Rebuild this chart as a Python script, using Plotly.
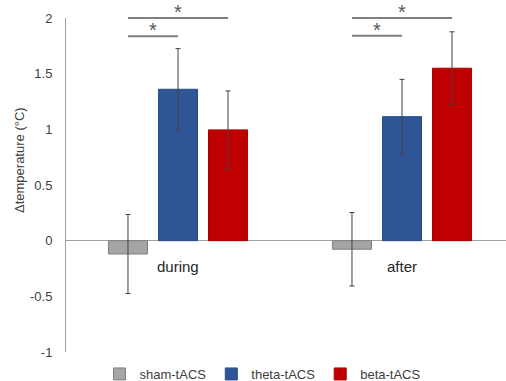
import plotly.graph_objects as go

categories = ["during", "after"]
series_names = ["sham-tACS", "theta-tACS", "beta-tACS"]
sham_vals = [-0.12, -0.077]
theta_vals = [1.36, 1.114]
beta_vals = [0.995, 1.549]
sham_err = [0.355, 0.33]
theta_err = [0.365, 0.335]
beta_err = [0.35, 0.327]
y_ticks = [-1, -0.5, 0, 0.5, 1, 1.5, 2]
y_tick_labels = ["-1", "-0.5", "0", "0.5", "1", "1.5", "2"]
# significance brackets: (category index, series from, series to, height)
sig_pairs = [(0, 0, 1, 1.835), (0, 0, 2, 2.0), (1, 0, 1, 1.84), (1, 0, 2, 2.0)]

fill_colors = ["#a5a5a5", "#2f5597", "#c00000"]
line_colors = ["#808080", "#2a4c86", "#a80000"]

# body margin removed via post_script, so figure pixels == page pixels
W, H = 506, 381
plot_left, plot_top, plot_bottom = 66, 18, 352
ml = plot_left
mt = plot_top
mb = H - plot_bottom
mr = 0
PW, PH = W - ml - mr, H - mt - mb

bargap = 0.33
bargroupgap = 0.22
YMIN, YMAX = -1, 2
XMIN = -0.5
XMAX = XMIN + PW / 224.0

def px_to_paper_x(px):
    return (px - plot_left) / PW
def px_to_paper_y(py):
    return (plot_bottom - py) / PH

xs = list(range(len(categories)))
fig = go.Figure()
for name, vals, errs, fc, lc in zip(series_names, [sham_vals, theta_vals, beta_vals],
                                     [sham_err, theta_err, beta_err], fill_colors, line_colors):
    fig.add_trace(go.Bar(
        x=xs, y=vals, name=name,
        marker=dict(color=fc, line=dict(color=lc, width=1)),
        error_y=dict(type="data", array=errs, visible=True, color="#404040", thickness=1, width=2.5),
    ))

pitch = (1 - bargap) / len(series_names)
def bar_x(ci, si):
    return ci + (si - (len(series_names) - 1) / 2) * pitch
def paper_y(v):
    return (v - YMIN) / (YMAX - YMIN)

for ci, s0, s1, h in sig_pairs:
    x0, x1 = bar_x(ci, s0), bar_x(ci, s1)
    fig.add_shape(type="line", xref="x", yref="paper", x0=x0, x1=x1,
                  y0=paper_y(h), y1=paper_y(h), line=dict(color="#7f7f7f", width=2))
    fig.add_annotation(x=(x0 + x1) / 2, y=paper_y(h), xref="x", yref="paper", text="*",
                       showarrow=False, yanchor="bottom", yshift=-7,
                       font=dict(family="Liberation Sans, Arial", size=20, color="#595959"))

for ci, cat in enumerate(categories):
    fig.add_annotation(x=ci, y=-0.236, xref="x", yref="y", text=cat, showarrow=False,
                       font=dict(family="Liberation Sans, Arial", size=15, color="#262626"))

fig.add_annotation(x=px_to_paper_x(19), y=px_to_paper_y(160), xref="paper", yref="paper",
                   xanchor="center", yanchor="middle",
                   text="Δtemperature (°C)", showarrow=False, textangle=-90,
                   font=dict(family="Liberation Sans, Arial", size=13, color="#404040"))

fig.update_layout(
    width=W, height=H,
    margin=dict(l=ml, r=mr, t=mt, b=mb, autoexpand=False),
    paper_bgcolor="white", plot_bgcolor="white",
    barmode="group", bargap=bargap, bargroupgap=bargroupgap,
    font=dict(family="Liberation Sans, Arial", size=13, color="#404040"),
    showlegend=True,
    legend=dict(orientation="h", x=px_to_paper_x(263), xanchor="center",
                y=px_to_paper_y(374), yanchor="middle",
                font=dict(size=13, color="#404040"), itemwidth=30, tracegroupgap=0,
                bgcolor="rgba(0,0,0,0)"),
    xaxis=dict(visible=False, range=[XMIN, XMAX]),
    yaxis=dict(range=[YMIN, YMAX], tickvals=y_ticks, ticktext=y_tick_labels,
               showgrid=False, showline=True, linecolor="#a0a0a0", linewidth=1,
               zeroline=True, zerolinecolor="#a0a0a0", zerolinewidth=1,
               ticks="", ticklabelstandoff=10, automargin=False,
               tickfont=dict(size=13, color="#404040")),
)

fig.write_html("out.html", config={"displayModeBar": False},
               post_script="document.body.style.margin='0';document.body.style.overflow='hidden';")
